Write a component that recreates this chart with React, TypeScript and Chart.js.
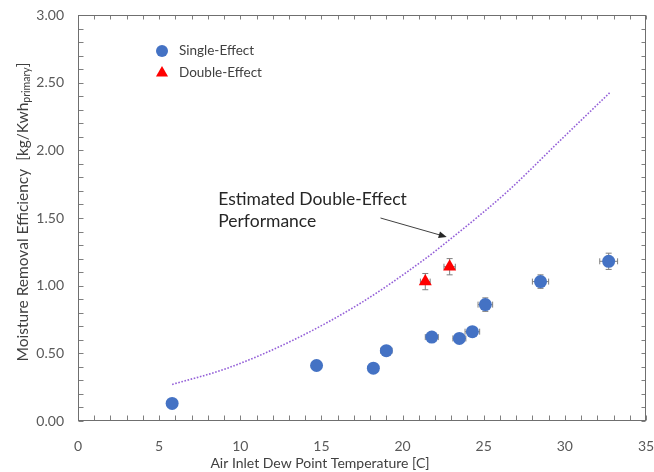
import { useEffect, useRef } from "react";
import { Chart, registerables } from "chart.js";

Chart.register(...registerables);

// ---- data ----
const seriesLabels = ["Single-Effect", "Double-Effect"];
const singleX = [5.8, 14.7, 18.2, 19.0, 21.8, 23.5, 24.3, 25.1, 28.5, 32.7];
const singleY = [0.13, 0.41, 0.39, 0.52, 0.62, 0.61, 0.66, 0.86, 1.03, 1.18];
const singleXErr = [0.2, 0.2, 0.2, 0.35, 0.4, 0.4, 0.45, 0.45, 0.5, 0.55];
const singleYErr = [0.01, 0.02, 0.02, 0.03, 0.03, 0.03, 0.03, 0.05, 0.05, 0.06];
const doubleX = [21.4, 22.9];
const doubleY = [1.03, 1.14];
const doubleXErr = [0.3, 0.35];
const doubleYErr = [0.06, 0.06];
const curveX = [5.8, 9.2, 13.3, 17.4, 21.3, 22.8, 26.5, 29.6, 32.8];
const curveY = [0.27, 0.39, 0.6, 0.87, 1.19, 1.33, 1.7, 2.06, 2.43];
const xTicks = { min: 0, max: 35, major: 5, minor: 1 };
const yTicks = { min: 0, max: 3, major: 0.5, minor: 0.1 };
const xTitle = "Air Inlet Dew Point Temperature [C]";
const yTitleMain = "Moisture Removal Efficiency  [kg/Kwh";
const yTitleSub = "primary";
const yTitleEnd = "]";
const annotationLines = ["Estimated Double-Effect", "Performance"];
const annotationAt = { x: 8.64, y: 1.64 };
const arrowFrom = { x: 18.64, y: 1.5 };
const arrowTo = { x: 22.72, y: 1.36 };

const FONT = "Lato, 'Open Sans', sans-serif";
const BLUE = "#4472C4";
const RED = "#FF0000";

const framePlugin = {
  id: "frame",
  beforeDatasetsDraw(chart: any) {
    const { ctx, chartArea: a, scales } = chart;
    const x = scales.x;
    const y = scales.y;
    ctx.save();
    ctx.strokeStyle = "#7f7f7f";
    ctx.lineWidth = 1;
    const L = Math.round(a.left) + 0.5;
    const R = Math.round(a.right) - 0.5;
    const T = Math.round(a.top) + 0.5;
    const B = Math.round(a.bottom) - 0.5;
    ctx.beginPath();
    const nx = Math.round((xTicks.max - xTicks.min) / xTicks.minor);
    for (let i = 0; i <= nx; i++) {
      const px = Math.round(x.getPixelForValue(xTicks.min + i * xTicks.minor)) + 0.5;
      ctx.moveTo(px, B);
      ctx.lineTo(px, B - 5);
      ctx.moveTo(px, T);
      ctx.lineTo(px, T + 4);
    }
    const ny = Math.round((yTicks.max - yTicks.min) / yTicks.minor);
    for (let i = 0; i <= ny; i++) {
      const py = Math.round(y.getPixelForValue(yTicks.min + i * yTicks.minor)) + 0.5;
      ctx.moveTo(L, py);
      ctx.lineTo(L + 5, py);
      ctx.moveTo(R, py);
      ctx.lineTo(R - 4, py);
    }
    ctx.stroke();
    ctx.strokeStyle = "#6f6f6f";
    ctx.strokeRect(L, T, R - L, B - T);

    // error bars
    ctx.strokeStyle = "#7f7f7f";
    ctx.lineWidth = 1;
    const drawErr = (xs: number[], ys: number[], ex: number[], ey: number[]) => {
      ctx.beginPath();
      for (let i = 0; i < xs.length; i++) {
        const cx = x.getPixelForValue(xs[i]);
        const cy = y.getPixelForValue(ys[i]);
        const x0 = x.getPixelForValue(xs[i] - ex[i]);
        const x1 = x.getPixelForValue(xs[i] + ex[i]);
        const y0 = y.getPixelForValue(ys[i] - ey[i]);
        const y1 = y.getPixelForValue(ys[i] + ey[i]);
        ctx.moveTo(x0, cy);
        ctx.lineTo(x1, cy);
        ctx.moveTo(x0, cy - 3);
        ctx.lineTo(x0, cy + 3);
        ctx.moveTo(x1, cy - 3);
        ctx.lineTo(x1, cy + 3);
        ctx.moveTo(cx, y0);
        ctx.lineTo(cx, y1);
        ctx.moveTo(cx - 3, y0);
        ctx.lineTo(cx + 3, y0);
        ctx.moveTo(cx - 3, y1);
        ctx.lineTo(cx + 3, y1);
      }
      ctx.stroke();
    };
    drawErr(singleX, singleY, singleXErr, singleYErr);
    drawErr(doubleX, doubleY, doubleXErr, doubleYErr);
    ctx.restore();
  },
  afterDraw(chart: any) {
    const { ctx, scales } = chart;
    const x = scales.x;
    const y = scales.y;
    ctx.save();
    // x title
    ctx.fillStyle = "#404040";
    ctx.font = `14px ${FONT}`;
    ctx.textAlign = "center";
    ctx.textBaseline = "middle";
    ctx.fillText(xTitle, 320, 463);

    // y title with subscript
    ctx.translate(23, 212);
    ctx.rotate(-Math.PI / 2);
    const mainFont = `15.5px ${FONT}`;
    const subFont = `10.5px ${FONT}`;
    ctx.font = mainFont;
    const w1 = ctx.measureText(yTitleMain).width;
    const w3 = ctx.measureText(yTitleEnd).width;
    ctx.font = subFont;
    const w2 = ctx.measureText(yTitleSub).width;
    let sx = -(w1 + w2 + w3) / 2;
    ctx.textAlign = "left";
    ctx.textBaseline = "middle";
    ctx.font = mainFont;
    ctx.fillText(yTitleMain, sx, 0);
    sx += w1;
    ctx.font = subFont;
    ctx.fillText(yTitleSub, sx, 4);
    sx += w2;
    ctx.font = mainFont;
    ctx.fillText(yTitleEnd, sx, 0);
    ctx.setTransform(1, 0, 0, 1, 0, 0);

    // annotation text
    ctx.fillStyle = "#262626";
    ctx.font = `17.5px ${FONT}`;
    ctx.textAlign = "left";
    ctx.textBaseline = "middle";
    const ax = x.getPixelForValue(annotationAt.x);
    const ay = y.getPixelForValue(annotationAt.y);
    annotationLines.forEach((t, i) => ctx.fillText(t, ax, ay + i * 22));

    // arrow
    const fx = x.getPixelForValue(arrowFrom.x);
    const fy = y.getPixelForValue(arrowFrom.y);
    const tx = x.getPixelForValue(arrowTo.x);
    const ty = y.getPixelForValue(arrowTo.y);
    const ang = Math.atan2(ty - fy, tx - fx);
    ctx.strokeStyle = "#404040";
    ctx.fillStyle = "#262626";
    ctx.lineWidth = 1;
    ctx.beginPath();
    ctx.moveTo(fx, fy);
    ctx.lineTo(tx - 6 * Math.cos(ang), ty - 6 * Math.sin(ang));
    ctx.stroke();
    ctx.beginPath();
    ctx.moveTo(tx, ty);
    ctx.lineTo(tx - 8 * Math.cos(ang) + 3.5 * Math.sin(ang), ty - 8 * Math.sin(ang) - 3.5 * Math.cos(ang));
    ctx.lineTo(tx - 8 * Math.cos(ang) - 3.5 * Math.sin(ang), ty - 8 * Math.sin(ang) + 3.5 * Math.cos(ang));
    ctx.closePath();
    ctx.fill();

    // legend
    const lx = 162;
    const ly1 = 51;
    const ly2 = 73;
    ctx.fillStyle = BLUE;
    ctx.beginPath();
    ctx.arc(lx, ly1, 6, 0, Math.PI * 2);
    ctx.fill();
    ctx.fillStyle = RED;
    ctx.beginPath();
    const r = 7;
    ctx.moveTo(lx, ly2 - r);
    ctx.lineTo(lx + r * Math.sin((2 * Math.PI) / 3), ly2 + r / 2);
    ctx.lineTo(lx - r * Math.sin((2 * Math.PI) / 3), ly2 + r / 2);
    ctx.closePath();
    ctx.fill();
    ctx.fillStyle = "#404040";
    ctx.font = `13.5px ${FONT}`;
    ctx.textAlign = "left";
    ctx.textBaseline = "middle";
    ctx.fillText(seriesLabels[0], 179, ly1);
    ctx.fillText(seriesLabels[1], 179, ly2);
    ctx.restore();
  },
};

const zeroPad = (s: any) => {
  s.paddingTop = 0;
  s.paddingBottom = 0;
  s.paddingLeft = 0;
  s.paddingRight = 0;
};

export default function App() {
  const ref = useRef<HTMLCanvasElement>(null);
  useEffect(() => {
    if (!ref.current) return;
    const chart = new Chart(ref.current, {
      type: "scatter",
      data: {
        datasets: [
          {
            label: "Estimated Double-Effect Performance",
            data: curveX.map((v, i) => ({ x: v, y: curveY[i] })),
            showLine: true,
            borderColor: "#9460D8",
            borderWidth: 1.6,
            borderDash: [1.6, 1.6],
            pointRadius: 0,
            cubicInterpolationMode: "monotone",
            fill: false,
          },
          {
            label: seriesLabels[0],
            data: singleX.map((v, i) => ({ x: v, y: singleY[i] })),
            backgroundColor: BLUE,
            borderColor: BLUE,
            pointRadius: 6.5,
            pointBorderWidth: 0,
            pointStyle: "circle",
          },
          {
            label: seriesLabels[1],
            data: doubleX.map((v, i) => ({ x: v, y: doubleY[i] })),
            backgroundColor: RED,
            borderColor: RED,
            pointRadius: 7.5,
            pointBorderWidth: 0,
            pointStyle: "triangle",
          },
        ],
      } as any,
      options: {
        animation: false,
        responsive: true,
        maintainAspectRatio: false,
        layout: { padding: { top: 15, right: 8, left: 0, bottom: 0 } },
        plugins: { legend: { display: false }, tooltip: { enabled: false } },
        scales: {
          x: {
            type: "linear",
            min: xTicks.min,
            max: xTicks.max,
            grid: { display: false, drawTicks: false },
            border: { display: false },
            ticks: {
              stepSize: xTicks.major,
              color: "#595959",
              font: { family: FONT, size: 14 },
              padding: 17,
              maxRotation: 0,
            },
            afterFit: (s: any) => {
              s.height = 51;
              zeroPad(s);
            },
          },
          y: {
            type: "linear",
            min: yTicks.min,
            max: yTicks.max,
            grid: { display: false, drawTicks: false },
            border: { display: false },
            ticks: {
              stepSize: yTicks.major,
              color: "#595959",
              font: { family: FONT, size: 14 },
              padding: 14,
              callback: (v: any) => Number(v).toFixed(2),
            },
            afterFit: (s: any) => {
              s.width = 78;
              zeroPad(s);
            },
          },
        },
      } as any,
      plugins: [framePlugin],
    });
    return () => chart.destroy();
  }, []);
  return (
    <div style={{ position: "fixed", left: 0, top: 0, width: 654, height: 472 }}>
      <canvas ref={ref} />
    </div>
  );
}
